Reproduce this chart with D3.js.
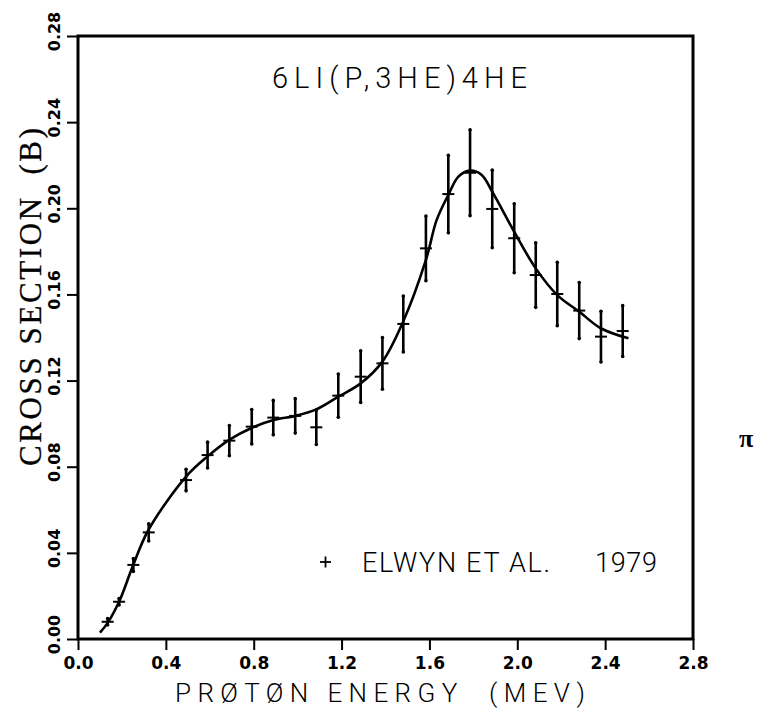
<!DOCTYPE html>
<html>
<head>
<meta charset="utf-8">
<script src="https://cdn.jsdelivr.net/npm/d3@7"></script>
<style>
  html, body { margin: 0; padding: 0; background: #fff; }
  svg { display: block; }
</style>
</head>
<body>
<svg id="chart" width="763" height="709"></svg>
<script>
// Measured points: proton energy (MeV), cross section (b), uncertainty (b)
const energy = [0.135, 0.187, 0.252, 0.322, 0.492, 0.590, 0.689, 0.791, 0.889, 0.989,
                1.085, 1.185, 1.287, 1.386, 1.481, 1.584, 1.686, 1.785, 1.886, 1.986,
                2.084, 2.182, 2.282, 2.381, 2.480];
const sigma  = [0.0080, 0.0173, 0.0344, 0.0495, 0.0738, 0.0854, 0.0921, 0.0986, 0.1028, 0.1036,
                0.0983, 0.1130, 0.1218, 0.1280, 0.1463, 0.1814, 0.2066, 0.2165, 0.1997, 0.1861,
                0.1690, 0.1602, 0.1525, 0.1404, 0.1430];
const sigmaErr = [0.0015, 0.0015, 0.003, 0.004, 0.005, 0.006, 0.007, 0.008, 0.008, 0.008,
                  0.008, 0.010, 0.012, 0.012, 0.013, 0.015, 0.018, 0.020, 0.018, 0.016,
                  0.015, 0.0147, 0.013, 0.0118, 0.0118];

// Evaluated (fitted) cross section curve
const fitEnergy = [0.10, 0.135, 0.19, 0.25, 0.32, 0.49, 0.59, 0.69, 0.79,
                   0.89, 0.99, 1.085, 1.185, 1.287, 1.386, 1.481, 1.584, 1.633, 1.686,
                   1.732, 1.785, 1.838, 1.886, 1.986, 2.084, 2.182, 2.282, 2.38, 2.506];
const fitSigma  = [0.003, 0.0075, 0.018, 0.034, 0.0505, 0.0752, 0.0848, 0.0926, 0.0980,
                   0.1017, 0.1036, 0.1066, 0.1125, 0.1187, 0.1288, 0.1475, 0.176, 0.1946, 0.2062,
                   0.2147, 0.2175, 0.2155, 0.2077, 0.1891, 0.1721, 0.1597, 0.1520, 0.1443, 0.1396];

const xTicks = [0.0, 0.4, 0.8, 1.2, 1.6, 2.0, 2.4, 2.8];
const yTicks = [0.00, 0.04, 0.08, 0.12, 0.16, 0.20, 0.24, 0.28];

const titleText = "6LI(P,3HE)4HE";
const xTitle = "PRØTØN ENERGY\u00a0\u00a0(MEV)";
const yTitle = "CROSS SECTION\u00a0\u00a0(B)";
const legendLabel = "ELWYN ET AL.";
const legendYear = "1979";

const svg = d3.select("#chart");
const plotLeft = 78, plotRight = 693, plotTop = 36, plotBottom = 639;

const x = d3.scaleLinear().domain([0, 2.8]).range([plotLeft, plotRight]);
const y = d3.scaleLinear().domain([0, 0.28]).range([plotBottom, plotTop]);

const ink = "#000";
const tickFont = "'DejaVu Sans', 'Liberation Sans', sans-serif";
const plotterFont = "Roboto, 'DejaVu Sans', sans-serif";

// Frame
svg.append("rect")
  .attr("x", plotLeft).attr("y", plotTop)
  .attr("width", plotRight - plotLeft).attr("height", plotBottom - plotTop)
  .attr("fill", "none").attr("stroke", ink).attr("stroke-width", 3);

// Bottom axis
const xAxis = svg.append("g")
  .attr("transform", `translate(0,${plotBottom})`)
  .call(d3.axisBottom(x).tickValues(xTicks).tickFormat(d3.format(".1f"))
        .tickSizeInner(11).tickSizeOuter(0).tickPadding(7));
xAxis.select(".domain").remove();
xAxis.selectAll(".tick line").attr("stroke", ink).attr("stroke-width", 2);
xAxis.selectAll(".tick text")
  .attr("font-family", tickFont)
  .attr("font-weight", "bold").attr("font-size", 17).attr("fill", ink);

// Left axis, labels turned to read upward
const yAxis = svg.append("g")
  .attr("transform", `translate(${plotLeft},0)`)
  .call(d3.axisLeft(y).tickValues(yTicks).tickFormat(d3.format(".2f"))
        .tickSizeInner(11).tickSizeOuter(0));
yAxis.select(".domain").remove();
yAxis.selectAll(".tick line").attr("stroke", ink).attr("stroke-width", 2);
yAxis.selectAll(".tick text")
  .attr("x", null).attr("dy", null)
  .attr("text-anchor", "middle")
  .attr("transform", "translate(-18,-5) rotate(-90)")
  .attr("font-family", tickFont)
  .attr("font-weight", "bold").attr("font-size", 16).attr("fill", ink);

// Fitted curve
const line = d3.line()
  .x((d, i) => x(fitEnergy[i]))
  .y((d, i) => y(fitSigma[i]))
  .curve(d3.curveCatmullRom.alpha(0.5));
svg.append("path")
  .attr("d", line(fitEnergy))
  .attr("fill", "none").attr("stroke", ink).attr("stroke-width", 2.6)
  .attr("stroke-linejoin", "round");

// Data points with error bars
const pts = svg.append("g").selectAll("g")
  .data(energy.map((e, i) => ({ e, s: sigma[i], err: sigmaErr[i] })))
  .join("g");
pts.append("line")
  .attr("x1", d => x(d.e)).attr("x2", d => x(d.e))
  .attr("y1", d => y(d.s + d.err)).attr("y2", d => y(d.s - d.err))
  .attr("stroke", ink).attr("stroke-width", 2.6);
pts.append("line")
  .attr("x1", d => x(d.e) - 6).attr("x2", d => x(d.e) + 6)
  .attr("y1", d => y(d.s)).attr("y2", d => y(d.s))
  .attr("stroke", ink).attr("stroke-width", 2);
pts.append("circle")
  .attr("cx", d => x(d.e)).attr("cy", d => y(d.s + d.err)).attr("r", 1.8).attr("fill", ink);
pts.append("circle")
  .attr("cx", d => x(d.e)).attr("cy", d => y(d.s - d.err)).attr("r", 1.8).attr("fill", ink);

// Reaction label
svg.append("text")
  .attr("x", 272).attr("y", 88)
  .attr("textLength", 255).attr("lengthAdjust", "spacing")
  .attr("font-family", plotterFont)
  .attr("font-weight", 300).attr("font-size", 29).attr("fill", ink)
  .text(titleText);

// Legend
svg.append("line").attr("x1", 320).attr("x2", 331).attr("y1", 562).attr("y2", 562)
  .attr("stroke", ink).attr("stroke-width", 1.8);
svg.append("line").attr("x1", 325.5).attr("x2", 325.5).attr("y1", 556.5).attr("y2", 567.5)
  .attr("stroke", ink).attr("stroke-width", 1.8);
svg.append("text")
  .attr("x", 362).attr("y", 572)
  .attr("textLength", 188).attr("lengthAdjust", "spacing")
  .attr("font-family", plotterFont)
  .attr("font-weight", 300).attr("font-size", 27).attr("fill", ink)
  .text(legendLabel);
svg.append("text")
  .attr("x", 595).attr("y", 572)
  .attr("textLength", 62).attr("lengthAdjust", "spacing")
  .attr("font-family", plotterFont)
  .attr("font-weight", 300).attr("font-size", 27).attr("fill", ink)
  .text(legendYear);

// Axis titles
svg.append("text")
  .attr("x", 175).attr("y", 702)
  .attr("textLength", 410).attr("lengthAdjust", "spacing")
  .attr("font-family", plotterFont)
  .attr("font-weight", 300).attr("font-size", 26).attr("fill", ink)
  .text(xTitle);
svg.append("text")
  .attr("transform", "translate(41,466) rotate(-90)")
  .attr("textLength", 338).attr("lengthAdjust", "spacing")
  .attr("font-family", "'Liberation Serif', 'DejaVu Serif', serif")
  .attr("font-size", 31).attr("fill", ink)
  .attr("stroke", ink).attr("stroke-width", 0.3)
  .text(yTitle);

// Small mark at the right margin
svg.append("text")
  .attr("x", 746).attr("y", 447).attr("text-anchor", "middle")
  .attr("font-family", "'Liberation Serif', serif").attr("font-weight", "bold")
  .attr("font-size", 26).attr("fill", ink)
  .text("π");
</script>
</body>
</html>
